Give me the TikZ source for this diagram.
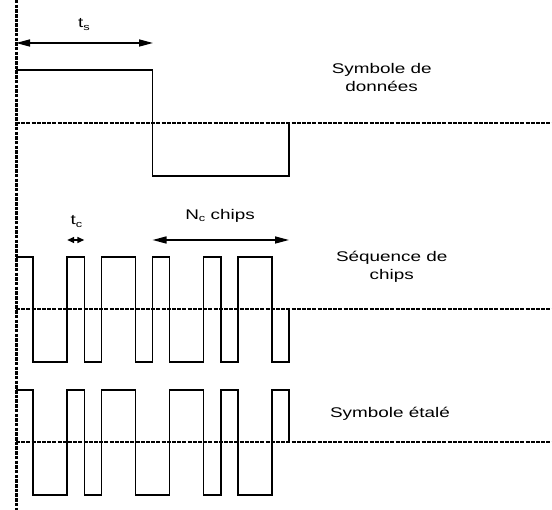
\documentclass[tikz,border=0pt]{standalone}
\usepackage{fontspec}
\setmainfont{Liberation Sans}
\newfontfamily\lab[FakeStretch=1.35]{Liberation Sans}
\usetikzlibrary{arrows.meta}
\newcommand\sbs[1]{\raisebox{-2.5pt}{\fontsize{9.5}{9.5}\selectfont #1}}
\begin{document}
\begin{tikzpicture}[x=1pt,y=-1pt,
  axisline/.style={line width=3pt, dash pattern=on 3.5pt off 1.2pt},
  baseline/.style={line width=2.8pt, dash pattern=on 4pt off 1.2pt},
  wave/.style={line width=1.5pt, line join=miter},
  span/.style={line width=1.5pt, {Triangle[length=14pt,width=7pt]}-{Triangle[length=14pt,width=7pt]}},
  tinyspan/.style={line width=1.5pt, {Triangle[length=7pt,width=6pt]}-{Triangle[length=7pt,width=6pt]}},
  lbl/.style={font=\lab\fontsize{14}{17.7}\selectfont, inner sep=0pt, align=center, anchor=base}]
\useasboundingbox (0,0) rectangle (552,510);

% waveforms (chip units)
\begin{scope}[shift={(16pt,0pt)}, x=17.0625pt]
  \draw[wave] (0,70) -- (8,70) -- (8,176) -- (16,176) -- (16,123);
  \draw[wave] (0,257) -- (1,257) -- (1,362) -- (3,362) -- (3,257) -- (4,257) -- (4,362) -- (5,362)
    -- (5,257) -- (7,257) -- (7,362) -- (8,362) -- (8,257) -- (9,257) -- (9,362) -- (11,362)
    -- (11,257) -- (12,257) -- (12,362) -- (13,362) -- (13,257) -- (15,257) -- (15,362) -- (16,362) -- (16,309);
  \draw[wave] (0,390) -- (1,390) -- (1,495) -- (3,495) -- (3,390) -- (4,390) -- (4,495) -- (5,495)
    -- (5,390) -- (7,390) -- (7,495) -- (9,495) -- (9,390) -- (11,390) -- (11,495) -- (12,495)
    -- (12,390) -- (13,390) -- (13,495) -- (15,495) -- (15,390) -- (16,390) -- (16,442);
\end{scope}

% baselines and axis
\draw[baseline] (16,123) -- (552,123);
\draw[baseline] (16,309) -- (552,309);
\draw[baseline] (16,442) -- (552,442);
\draw[axisline] (16,0) -- (16,510);

% labels
\node[lbl] (ts) at (84,28) {t\sbs{s}};
\node[lbl] (tc) at (76.5,225) {t\sbs{c}};
\node[lbl] (nc) at (220,219.5) {N\sbs{c} chips};
\node[lbl] (sd) at (381.7,91.7) {Symbole de\\données};
\node[lbl] (sc) at (391.7,279.7) {Séquence de\\chips};
\node[lbl] (se) at (390,417.3) {Symbole étalé};

% span arrows
\coordinate (tsL) at (16,43);
\coordinate (tsR) at (153,43);
\coordinate (tcL) at (67.2,240);
\coordinate (tcR) at (84.3,240);
\coordinate (ncL) at (152.5,240);
\coordinate (ncR) at (289,240);
\draw[span] (tsL) -- (tsR);
\draw[tinyspan] (tcL) -- (tcR);
\draw[span] (ncL) -- (ncR);
\end{tikzpicture}
\end{document}
